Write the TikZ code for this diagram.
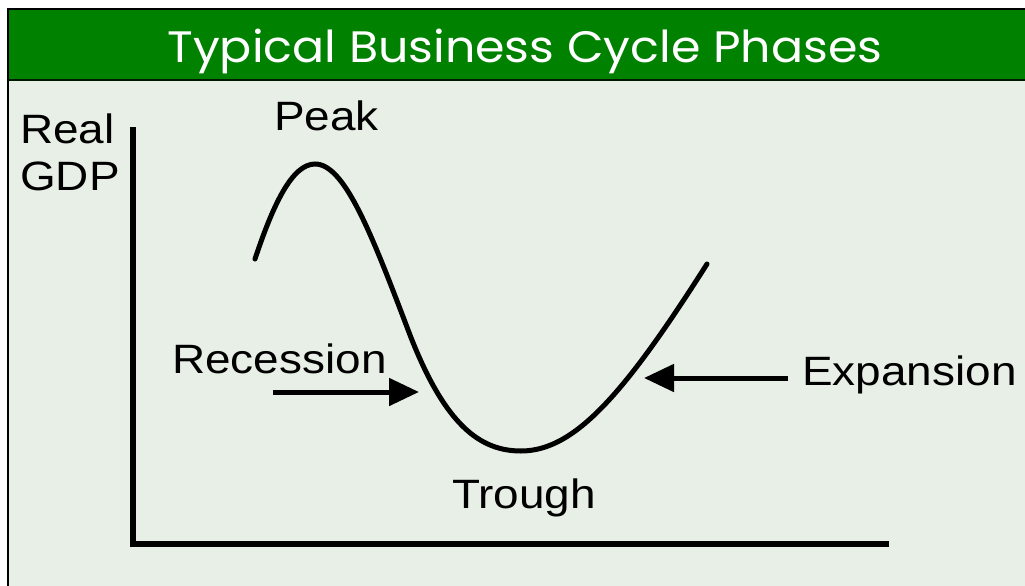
\documentclass[tikz,border=0pt]{standalone}
\usepackage{fontspec}
\usetikzlibrary{arrows.meta}
\setmainfont{Liberation Sans}[FakeStretch=1.12]
\newfontfamily\titlefont{Poppins}[FakeStretch=1.08]
\definecolor{headgreen}{HTML}{008200}
\definecolor{panelbg}{HTML}{E8EFE6}

\begin{document}
\begin{tikzpicture}[x=1pt,y=-1pt,
    lbl/.style={inner sep=0pt, font=\fontsize{41}{47}\selectfont},
    curveline/.style={line width=5pt, line cap=round},
    phasearrow/.style={line width=5pt, -{Triangle[length=30pt,width=27pt]}}]
    \useasboundingbox (0,0) rectangle (1025,586);
    % Frame and header
    \fill[panelbg] (8,80) rectangle (1025,586);
    \fill[headgreen] (8,8) rectangle (1025,80);
    \draw[line width=2.5pt] (8,586) -- (8,9) -- (1025,9);
    \draw[line width=2pt, black!80!headgreen] (8,80) -- (1025,80);
    \node[anchor=base, inner sep=0pt, text=white, font=\titlefont\fontsize{44}{50}\selectfont] (title) at (525,63) {Typical Business Cycle Phases};
    % Axes
    \coordinate (ytop) at (133,127);
    \coordinate (xend) at (889,544);
    \draw[line width=5.5pt] (ytop) |- (xend);
    \node[lbl, anchor=base west, align=left] (gdp) at (20,190) {Real\\GDP};
    % The cycle
    \coordinate (start) at (255,259);
    \coordinate (top) at (315,164);
    \coordinate (fall) at (410,335);
    \coordinate (bottom) at (521,451);
    \coordinate (finish) at (707,264);
    \draw[curveline] (start) .. controls (273,205) and (292,164) .. (top)
        .. controls (345,164) and (372,235) .. (fall)
        .. controls (445,425) and (480,451) .. (bottom)
        .. controls (575,451) and (625,393) .. (finish);
    % Labels
    \node[lbl, anchor=base west] (peak) at (274,130) {Peak};
    \node[lbl, anchor=base west] (trough) at (452,508) {Trough};
    \node[lbl, anchor=base west] (recession) at (172,373) {Recession};
    \node[lbl, anchor=base west] (expansion) at (802,385) {Expansion};
    \coordinate (rectail) at (273,392);
    \coordinate (rectip) at (419,392);
    \coordinate (exptail) at (788,378);
    \coordinate (exptip) at (644,378);
    \draw[phasearrow] (rectail) -- (rectip);
    \draw[phasearrow] (exptail) -- (exptip);
\end{tikzpicture}
\end{document}
